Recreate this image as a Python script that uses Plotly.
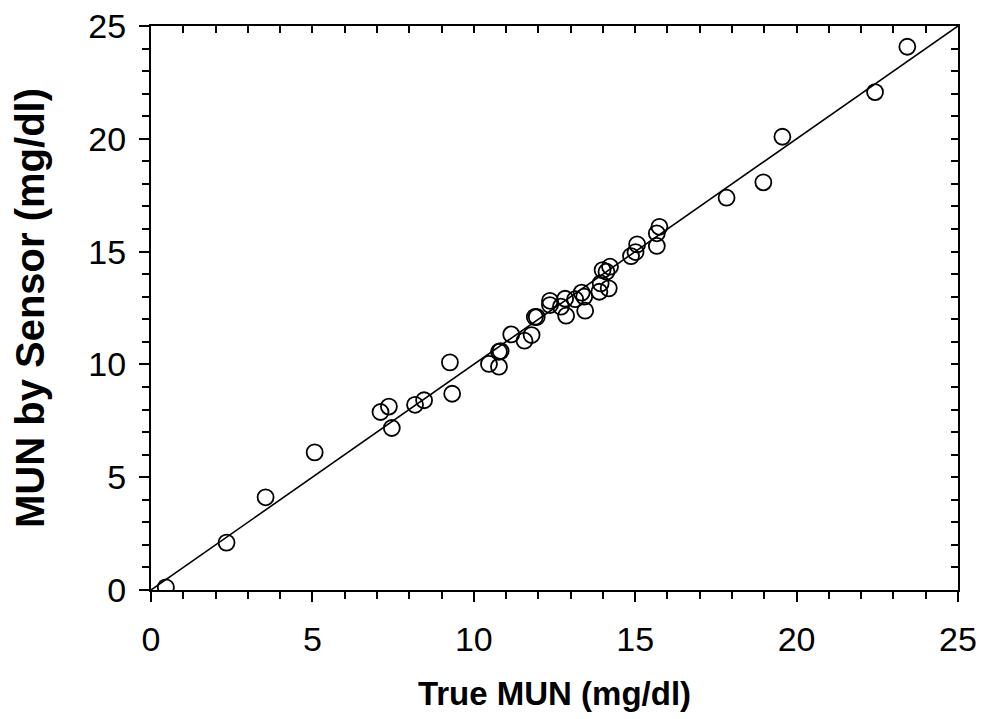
import plotly.graph_objects as go

true_mun = [0.46, 2.34, 3.55, 5.07, 7.11, 7.37, 7.46, 8.18, 8.46, 9.26, 9.33,
            10.47, 10.78, 10.78, 10.83, 11.16, 11.57, 11.79, 11.89, 11.95,
            12.36, 12.36, 12.70, 12.86, 12.83, 13.14, 13.34, 13.42, 13.45,
            13.89, 13.93, 13.99, 14.18, 14.22, 14.11, 14.87, 15.01, 15.06,
            15.67, 15.67, 15.75, 17.83, 18.97, 19.56, 22.43, 23.43]
sensor_mun = [0.12, 2.10, 4.11, 6.10, 7.89, 8.13, 7.18, 8.21, 8.41, 10.09, 8.70,
              10.02, 9.90, 10.56, 10.59, 11.33, 11.05, 11.30, 12.10, 12.10,
              12.82, 12.63, 12.56, 12.16, 12.91, 12.89, 13.18, 13.00, 12.38,
              13.22, 13.59, 14.18, 13.37, 14.33, 14.11, 14.80, 14.98, 15.32,
              15.25, 15.81, 16.10, 17.39, 18.07, 20.09, 22.07, 24.08]
fit_x = [0, 25]
fit_y = [0, 25]
tick_vals = [0, 5, 10, 15, 20, 25]
tick_text = ["0", "5", "10", "15", "20", "25"]

fig = go.Figure()
fig.add_trace(go.Scatter(x=fit_x, y=fit_y, mode="lines",
                         line=dict(color="black", width=1.6),
                         showlegend=False, hoverinfo="skip"))
fig.add_trace(go.Scatter(x=true_mun, y=sensor_mun, mode="markers",
                         marker=dict(symbol="circle-open", size=16,
                                     color="black", line=dict(width=1.8)),
                         showlegend=False))

regular = "Liberation Sans, Arial, sans-serif"
common = dict(range=[0, 25], showgrid=False, zeroline=False, automargin=False,
              showline=True, linecolor="black", linewidth=2)

fig.update_layout(
    width=984, height=719,
    margin=dict(l=151, r=26, t=26, b=129),
    plot_bgcolor="white", paper_bgcolor="white",
    font=dict(family=regular, color="black"),
    xaxis=dict(**common, tickmode="array", tickvals=tick_vals, ticktext=tick_text,
               ticks="outside", ticklen=10, tickwidth=1.5, tickcolor="black",
               tickfont=dict(size=34), ticklabelstandoff=8,
               minor=dict(dtick=1, ticks="outside", ticklen=7, tickwidth=1.5, tickcolor="black"),
               title=dict(text="<b>True MUN (mg/dl)</b>", font=dict(size=33), standoff=25)),
    yaxis=dict(**common, tickmode="array", tickvals=tick_vals, ticktext=tick_text,
               ticks="outside", ticklen=10, tickwidth=1.5, tickcolor="black",
               tickfont=dict(size=34), ticklabelstandoff=6,
               minor=dict(dtick=1, ticks="outside", ticklen=7, tickwidth=1.5, tickcolor="black"),
               title=dict(text="<b>MUN by Sensor (mg/dl)</b>", font=dict(size=40), standoff=31)),
    xaxis2=dict(**common, overlaying="x", side="top", matches="x",
                tickmode="linear", tick0=0, dtick=1, ticks="inside", ticklen=7,
                tickwidth=1.5, tickcolor="black", showticklabels=False),
    yaxis2=dict(**common, overlaying="y", side="right", matches="y",
                tickmode="linear", tick0=0, dtick=1, ticks="inside", ticklen=7,
                tickwidth=1.5, tickcolor="black", showticklabels=False),
)
fig.add_trace(go.Scatter(x=fit_x, y=fit_y, xaxis="x2", yaxis="y2", mode="lines",
                         line=dict(width=0), opacity=0, showlegend=False, hoverinfo="skip"))

fig.write_html("out.html")
